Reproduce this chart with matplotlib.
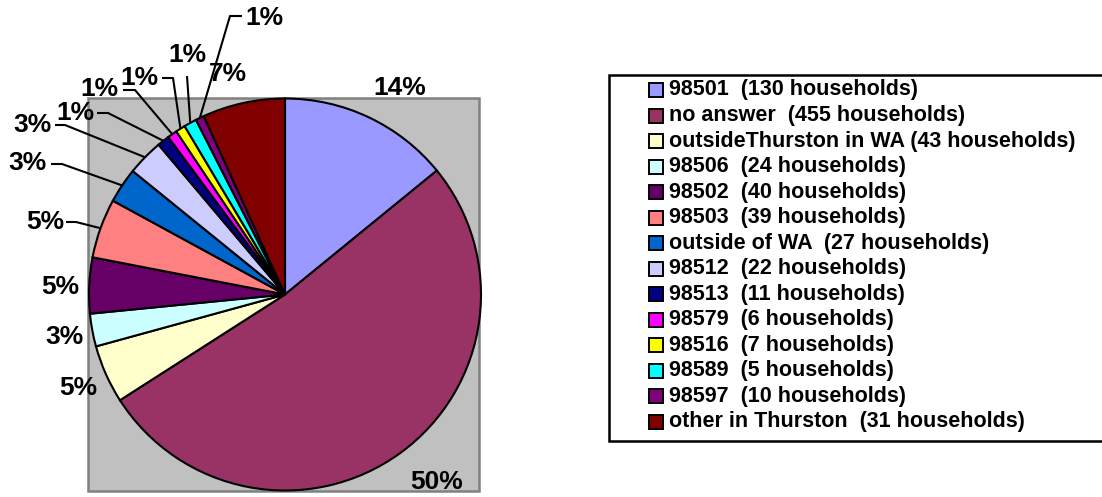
import matplotlib
matplotlib.use("Agg")
import matplotlib.pyplot as plt
from matplotlib.patches import Rectangle
import numpy as np

plt.rcParams["font.family"] = ["Liberation Sans", "DejaVu Sans"]

# slice shares (%), legend text and printed labels
shares = [14.1, 51.8, 4.8, 2.7, 4.6, 4.9, 2.9, 3.0, 1.0, 0.8, 0.8, 1.05, 0.7, 6.8]
pct_labels = ["14%", "50%", "5%", "3%", "5%", "5%", "3%", "3%", "1%", "1%", "1%", "1%", "1%", "7%"]
legend_labels = [
    "98501  (130 households)",
    "no answer  (455 households)",
    "outsideThurston in WA (43 households)",
    "98506  (24 households)",
    "98502  (40 households)",
    "98503  (39 households)",
    "outside of WA  (27 households)",
    "98512  (22 households)",
    "98513  (11 households)",
    "98579  (6 households)",
    "98516  (7 households)",
    "98589  (5 households)",
    "98597  (10 households)",
    "other in Thurston  (31 households)",
]
colors = ["#9999FF", "#993366", "#FFFFCC", "#CCFFFF", "#660066", "#FF8080", "#0066CC",
          "#CCCCFF", "#000080", "#FF00FF", "#FFFF00", "#00FFFF", "#800080", "#800000"]

W, H = 1102, 497
fig = plt.figure(figsize=(W / 100, H / 100), dpi=100)
ax = fig.add_axes([0, 0, 1, 1])


def Y(y):
    # screen pixel row -> data y (origin bottom)
    return H - y


# plot area
ax.add_patch(Rectangle((88, Y(491)), 391, 393, facecolor="#C0C0C0",
                       edgecolor="#808080", linewidth=1.8, zorder=0))

cx, cy, r = 285, 294.5, 196
wedges, _ = ax.pie(shares, colors=colors, startangle=90, counterclock=False,
                   center=(cx, Y(cy)), radius=r,
                   wedgeprops=dict(edgecolor="black", linewidth=1.5))
ax.set_xlim(0, W)
ax.set_ylim(0, H)
ax.set_aspect("equal")
ax.axis("off")

# label placement: (text x, text y, elbow points or None)
label_pos = [
    (400, 88, None),
    (437, 482, None),
    (78, 388, None),
    (64, 337, None),
    (60, 287, None),
    (45, 222, [(66, 222), (76, 222)]),
    (27, 163, [(51, 164), (62, 164)]),
    (32, 125, [(55, 125), (65, 125)]),
    (75, 113, [(97, 113), (108, 113)]),
    (99, 89, [(123, 90), (135, 90)]),
    (139, 78, [(162, 78), (173, 78)]),
    (187, 55, [(187, 76)]),
    (264, 18, [(242, 16), (230, 16)]),
    (228, 74, None),
]

for w, lab, (tx, ty, pts) in zip(wedges, pct_labels, label_pos):
    ax.text(tx, Y(ty), lab, fontsize=19, fontweight="bold", ha="center", va="center")
    if pts:
        mid = np.deg2rad((w.theta1 + w.theta2) / 2)
        ex = cx + r * np.cos(mid)
        ey = Y(cy) + r * np.sin(mid)
        xs = [p[0] for p in pts] + [ex]
        ys = [Y(p[1]) for p in pts] + [ey]
        ax.plot(xs, ys, color="black", linewidth=1.5, solid_capstyle="butt")

# legend box
ax.add_patch(Rectangle((609, Y(441)), 520, 366, facecolor="white",
                       edgecolor="black", linewidth=1.8, clip_on=False))
row0, step = 90, 25.52
for i, (lab, c) in enumerate(zip(legend_labels, colors)):
    yy = Y(row0 + i * step)
    ax.add_patch(Rectangle((649, yy - 7), 14, 14, facecolor=c, edgecolor="black", linewidth=1.4))
    ax.text(669, yy, lab, fontsize=15.5, fontweight="bold", ha="left", va="center")

fig.savefig("out.png", dpi=100)
